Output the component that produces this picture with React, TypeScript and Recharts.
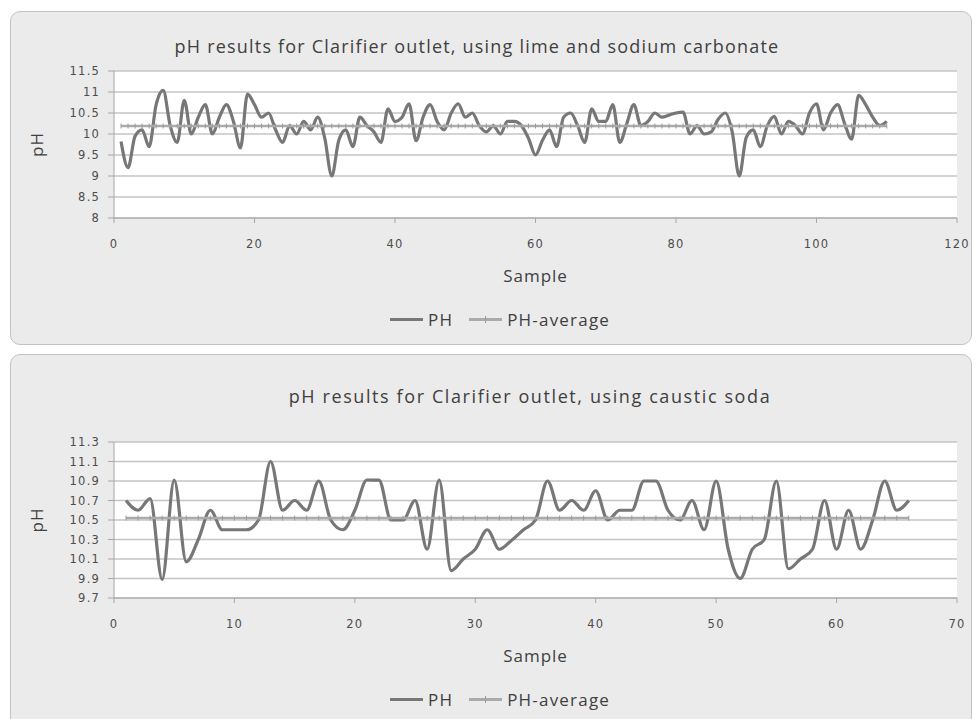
import React from 'react';
import { LineChart, Line, XAxis, YAxis, CartesianGrid, Legend } from 'recharts';

// ---- Data: chart 1 (lime and sodium carbonate) ----
const topPH: number[] = [
  9.82, 9.2, 9.95, 10.1, 9.7, 10.7, 11.04, 10.2, 9.8, 10.8,
  10.0, 10.4, 10.7, 10.0, 10.4, 10.7, 10.3, 9.67, 10.95, 10.7,
  10.4, 10.5, 10.1, 9.8, 10.2, 10.0, 10.3, 10.1, 10.4, 9.9,
  9.0, 9.85, 10.1, 9.7, 10.4, 10.2, 10.05, 9.8, 10.6, 10.3,
  10.4, 10.72, 9.84, 10.4, 10.7, 10.3, 10.1, 10.5, 10.72, 10.4,
  10.5, 10.2, 10.05, 10.2, 10.0, 10.3, 10.3, 10.2, 9.9, 9.5,
  9.85, 10.1, 9.7, 10.4, 10.5, 10.2, 9.8, 10.6, 10.3, 10.3,
  10.7, 9.8, 10.25, 10.7, 10.2, 10.3, 10.5, 10.4, 10.45, 10.5,
  10.52, 10.0, 10.2, 10.0, 10.05, 10.35, 10.5, 10.05, 9.0, 9.92,
  10.1, 9.7, 10.2, 10.42, 10.0, 10.3, 10.2, 10.0, 10.5, 10.72,
  10.1, 10.5, 10.7, 10.25, 9.88, 10.92, 10.7, 10.4, 10.2, 10.3,
];
const topAverage = 10.19;
const topXTicks = [0, 20, 40, 60, 80, 100, 120];
const topYTicks = [8, 8.5, 9, 9.5, 10, 10.5, 11, 11.5];
const topTitle = 'pH results for Clarifier outlet, using lime and sodium carbonate';

// ---- Data: chart 2 (caustic soda) ----
const bottomPH: number[] = [
  10.7, 10.6, 10.72, 9.89, 10.91, 10.07, 10.3, 10.6, 10.4, 10.4,
  10.4, 10.5, 11.1, 10.6, 10.7, 10.6, 10.9, 10.5, 10.4, 10.6,
  10.91, 10.91, 10.5, 10.5, 10.7, 10.2, 10.91, 9.98, 10.1, 10.2,
  10.4, 10.2, 10.29, 10.4, 10.5, 10.9, 10.6, 10.7, 10.6, 10.8,
  10.5, 10.6, 10.6, 10.9, 10.9, 10.6, 10.5, 10.7, 10.4, 10.9,
  10.2, 9.9, 10.2, 10.3, 10.9, 10.0, 10.1, 10.2, 10.7, 10.2,
  10.6, 10.2, 10.5, 10.9, 10.6, 10.7,
];
const bottomAverage = 10.52;
const bottomXTicks = [0, 10, 20, 30, 40, 50, 60, 70];
const bottomYTicks = [9.7, 9.9, 10.1, 10.3, 10.5, 10.7, 10.9, 11.1, 11.3];
const bottomTitle = 'pH results for Clarifier outlet, using caustic soda';

const seriesNames = ['PH', 'PH-average'];
const xLabel = 'Sample';
const yLabel = 'pH';

const buildTable = (values: number[], avg: number) =>
  values.map((v, i) => ({ sample: i + 1, ph: v, avg }));

const topData = buildTable(topPH, topAverage);
const bottomData = buildTable(bottomPH, bottomAverage);

const FONT = '"DejaVu Sans", Verdana, sans-serif';
const TITLE_FONT = '"Open Sans", "Noto Sans", sans-serif';
const PH_COLOR = '#777777';
const AVG_COLOR = '#ababab';
const TEXT = '#404040';
const TICK_TEXT = '#4d4d4d';

const LegendContent = (props: any) => {
  const payload = props.payload || [];
  return (
    <div style={{ display: 'flex', alignItems: 'center', fontFamily: TITLE_FONT, fontSize: 17, letterSpacing: 1.2, color: TEXT, whiteSpace: 'nowrap' }}>
      {payload.map((e: any, i: number) => (
        <span key={i} style={{ display: 'flex', alignItems: 'center', marginRight: 16 }}>
          <span style={{ display: 'inline-block', width: 33, height: 3, background: e.color, position: 'relative' }}>
            {i === 1 ? (
              <span style={{ position: 'absolute', left: 16, top: -2, width: 1, height: 7, background: '#9a9a9a' }} />
            ) : null}
          </span>
          <span style={{ marginLeft: 5 }}>{e.value}</span>
        </span>
      ))}
    </div>
  );
};

const AvgDot = (props: any) => {
  const { cx, cy, index } = props;
  if (cx == null || cy == null) return <g key={`d-${index}`} />;
  return <line key={`d-${index}`} x1={cx} x2={cx} y1={cy - 2.5} y2={cy + 2.5} stroke="#9a9a9a" strokeWidth={1} />;
};

type ChartProps = {
  data: any[];
  height: number;
  top: number;
  marginTop: number;
  marginBottom: number;
  xDomain: [number, number];
  xTicks: number[];
  yDomain: [number, number];
  yTicks: number[];
  legendTop: number;
};

const tickStyle = { fill: TICK_TEXT, fontSize: 11.5, fontFamily: FONT, letterSpacing: 1.2 };
const labelStyle = { fill: TEXT, fontSize: 17, fontFamily: TITLE_FONT, letterSpacing: 1 };

const PHChart = (p: ChartProps) => (
  <div style={{ position: 'absolute', left: 0, top: p.top }}>
    <LineChart width={976} height={p.height} data={p.data} margin={{ top: p.marginTop, right: 19, left: 54, bottom: p.marginBottom }}>
      <CartesianGrid vertical={false} stroke="#c4c4c4" strokeWidth={1.5} fill="#ffffff" />
      <XAxis
        type="number"
        dataKey="sample"
        domain={p.xDomain}
        ticks={p.xTicks}
        interval={0}
        height={30}
        tickSize={5}
        tickMargin={17}
        stroke="#a6a6a6"
        tick={tickStyle}
        label={{ value: xLabel, position: 'bottom', offset: 22, style: labelStyle }}
      />
      <YAxis
        type="number"
        domain={p.yDomain}
        ticks={p.yTicks}
        interval={0}
        width={60}
        tickSize={6}
        tickMargin={8}
        stroke="#a6a6a6"
        allowDataOverflow
        tick={tickStyle}
        label={{ value: yLabel, angle: -90, position: 'insideLeft', offset: -17, style: { ...labelStyle, textAnchor: 'middle' } }}
      />
      <Legend
        layout="horizontal"
        verticalAlign="middle"
        align="center"
        content={LegendContent}
        wrapperStyle={{ top: p.legendTop, left: 390, width: 'auto' }}
      />
      <Line name={seriesNames[0]} dataKey="ph" type="monotone" stroke={PH_COLOR} strokeWidth={3.2} dot={false} isAnimationActive={false} />
      <Line name={seriesNames[1]} dataKey="avg" type="linear" stroke={AVG_COLOR} strokeWidth={2.5} dot={AvgDot} activeDot={false} isAnimationActive={false} />
    </LineChart>
  </div>
);

const panelStyle: React.CSSProperties = {
  position: 'absolute',
  left: 10,
  width: 962,
  background: '#ebebeb',
  border: '1px solid #c3c3c3',
  borderRadius: 10,
  boxSizing: 'border-box',
};

const titleStyle: React.CSSProperties = {
  position: 'absolute',
  width: 800,
  textAlign: 'center',
  fontFamily: TITLE_FONT,
  fontSize: 18,
  letterSpacing: 1.2,
  color: TEXT,
  whiteSpace: 'nowrap',
};

export default function App() {
  return (
    <div style={{ position: 'absolute', left: 0, top: 0, width: 976, height: 719, background: '#ffffff', overflow: 'hidden' }}>
      <div style={{ ...panelStyle, top: 11, height: 334 }} />
      <div style={{ ...panelStyle, top: 354, height: 380 }} />
      <div style={{ ...titleStyle, left: 77, top: 34 }}>{topTitle}</div>
      <div style={{ ...titleStyle, left: 130, top: 384, letterSpacing: 1.6 }}>{bottomTitle}</div>
      <PHChart
        data={topData}
        height={345}
        top={0}
        marginTop={71}
        marginBottom={97}
        xDomain={[0, 120]}
        xTicks={topXTicks}
        yDomain={[8, 11.5]}
        yTicks={topYTicks}
        legendTop={308}
      />
      <PHChart
        data={bottomData}
        height={365}
        top={354}
        marginTop={88}
        marginBottom={91}
        xDomain={[0, 70]}
        xTicks={bottomXTicks}
        yDomain={[9.7, 11.3]}
        yTicks={bottomYTicks}
        legendTop={334}
      />
    </div>
  );
}
